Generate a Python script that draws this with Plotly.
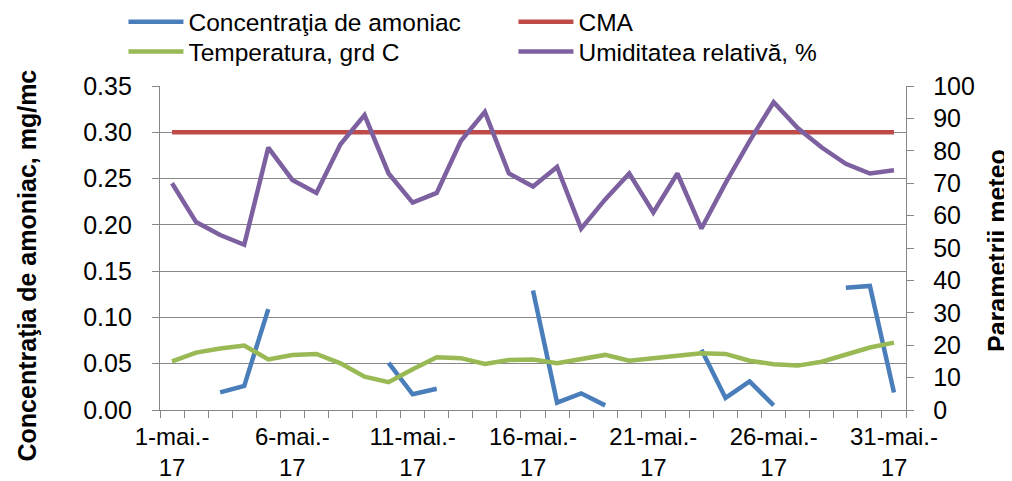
import plotly.graph_objects as go

days = list(range(1, 32))
tick_days = [1, 6, 11, 16, 21, 26, 31]
tick_labels = ["1-mai.-<br>17", "6-mai.-<br>17", "11-mai.-<br>17", "16-mai.-<br>17",
               "21-mai.-<br>17", "26-mai.-<br>17", "31-mai.-<br>17"]

amoniac = [None, None, 0.019, 0.026, 0.109, None, None, None, None, 0.051,
           0.017, 0.023, None, None, None, 0.129, 0.008, 0.018, 0.005, None,
           None, None, 0.065, 0.013, 0.031, 0.005, None, None, 0.132, 0.134, 0.019]
cma = [0.30] * 31
temperatura = [15, 17.7, 19, 19.9, 15.6, 17, 17.3, 14.4, 10.3, 8.6,
               12.6, 16.3, 16, 14.2, 15.4, 15.6, 14.4, 15.7, 17, 15.2,
               16, 16.8, 17.5, 17.3, 15.2, 14.1, 13.7, 14.9, 17, 19.3, 20.8]
umiditate = [70, 58, 54, 51, 81, 71, 67, 82, 91, 73,
             64, 67, 83, 92, 73, 69, 75, 56, 65, 73,
             61, 73, 56, 70, 83, 95, 87, 81, 76, 73, 74]

FONT = "Liberation Sans, Arial, sans-serif"
GRID = "#878787"
LW = 4.5

fig = go.Figure()
fig.add_trace(go.Scatter(x=days, y=amoniac, mode="lines", name="Concentraţia de amoniac",
                         line=dict(color="#4A7EBB", width=LW), connectgaps=False,
                         legend="legend"))
fig.add_trace(go.Scatter(x=days, y=cma, mode="lines", name="CMA",
                         line=dict(color="#BE4B48", width=LW), legend="legend"))
fig.add_trace(go.Scatter(x=days, y=temperatura, mode="lines", name="Temperatura, grd C",
                         line=dict(color="#98B954", width=LW), yaxis="y2",
                         legend="legend2"))
fig.add_trace(go.Scatter(x=days, y=umiditate, mode="lines", name="Umiditatea relativă, %",
                         line=dict(color="#7D60A0", width=LW), yaxis="y2",
                         legend="legend2"))

legend_common = dict(orientation="h", xanchor="left", yanchor="middle",
                     font=dict(family=FONT, size=24.5, color="black"),
                     itemwidth=55, entrywidth=320, bgcolor="rgba(0,0,0,0)",
                     itemclick=False, itemdoubleclick=False)

# the page body has an 8px margin, so the figure is shrunk by 8px and margins adjusted
fig.update_layout(
    width=1004, height=473,
    margin=dict(l=152, r=106, t=78, b=71, autoexpand=False),
    paper_bgcolor="white", plot_bgcolor="white",
    font=dict(family=FONT, size=25, color="black"),
    legend=dict(x=-0.049, y=1.198, **legend_common),
    legend2=dict(x=-0.049, y=1.106, **legend_common),
    xaxis=dict(range=[0.5, 31.5], tickmode="array", tickvals=tick_days,
               ticktext=tick_labels, ticks="", showgrid=False,
               showline=True, linecolor=GRID, linewidth=1.3,
               tickfont=dict(family=FONT, size=24, color="black"),
               ticklabelstandoff=5,
               minor=dict(tickmode="array", tickvals=[d - 0.5 for d in range(1, 33)],
                          ticks="outside", ticklen=7, tickcolor=GRID, tickwidth=1.3,
                          showgrid=False)),
    yaxis=dict(range=[0, 0.35], dtick=0.05, tickformat=".2f", showgrid=True,
               gridcolor=GRID, gridwidth=1.3, showline=True, linecolor=GRID,
               linewidth=1.3, ticks="outside", ticklen=7, tickcolor=GRID,
               tickwidth=1.3, zeroline=False, ticklabelstandoff=15,
               tickfont=dict(family=FONT, size=25, color="black")),
    yaxis2=dict(range=[0, 100], dtick=10, overlaying="y", side="right",
                showgrid=False, showline=True, linecolor=GRID, linewidth=1.3,
                ticks="outside", ticklen=7, tickcolor=GRID, tickwidth=1.3,
                zeroline=False, ticklabelstandoff=14,
                tickfont=dict(family=FONT, size=25, color="black")),
    annotations=[
        dict(text="<b>Concentraţia de amoniac, mg/mc</b>", textangle=-90,
             xref="paper", yref="paper", x=(26 - 160) / 746, y=(410 - 265.5) / 324,
             xanchor="center", yanchor="middle", showarrow=False,
             font=dict(family=FONT, size=25, color="black")),
        dict(text="<b>Parametrii meteo</b>", textangle=-90,
             xref="paper", yref="paper", x=(997 - 160) / 746, y=(410 - 251) / 324,
             xanchor="center", yanchor="middle", showarrow=False,
             font=dict(family=FONT, size=25, color="black")),
    ],
)

fig.write_html("out.html")
